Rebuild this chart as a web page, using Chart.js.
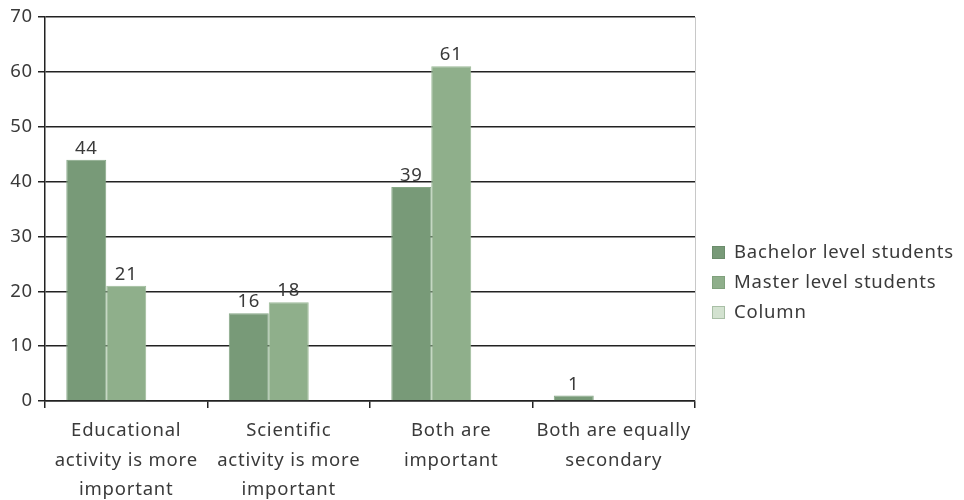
<!DOCTYPE html>
<html><head><meta charset="utf-8">
<script src="https://cdn.jsdelivr.net/npm/chart.js@4"></script>
<style>html,body{margin:0;padding:0;background:#fff}#wrap{width:964px;height:500px}</style>
</head><body><div id="wrap"><canvas id="c" width="964" height="500"></canvas></div>
<script>
const categories = [["Educational","activity is more","important"],["Scientific","activity is more","important"],["Both are","important"],["Both are equally","secondary"]];
const bachelor = [44, 16, 39, 1];
const master = [21, 18, 61, null];
const column = [null, null, null, null];
const seriesNames = ["Bachelor level students", "Master level students", "Column"];
const yTicks = [0,10,20,30,40,50,60,70];

const FONT = "'Noto Sans', sans-serif";
const FS = 18.5;
const TXT = '#3a3a3a';
const SPACING = '0.8px';

const spacingPlugin = {
  id: 'spacing',
  beforeInit(chart) { chart.ctx.letterSpacing = SPACING; },
  beforeUpdate(chart) { chart.ctx.letterSpacing = SPACING; },
  beforeDraw(chart) { chart.ctx.letterSpacing = SPACING; }
};

const valueLabels = {
  id: 'valueLabels',
  afterDatasetsDraw(chart) {
    const ctx = chart.ctx;
    ctx.save();
    ctx.letterSpacing = SPACING;
    ctx.font = FS + 'px ' + FONT;
    ctx.fillStyle = TXT;
    ctx.textAlign = 'center';
    ctx.textBaseline = 'alphabetic';
    chart.data.datasets.forEach((ds, i) => {
      const meta = chart.getDatasetMeta(i);
      meta.data.forEach((bar, j) => {
        const v = ds.data[j];
        if (v === null || v === undefined) return;
        ctx.fillText(String(v), bar.x, bar.y - 6);
      });
    });
    ctx.restore();
  }
};

const sideLegend = {
  id: 'sideLegend',
  afterDraw(chart) {
    const ctx = chart.ctx;
    const a = chart.chartArea;
    ctx.save();
    ctx.letterSpacing = SPACING;
    ctx.strokeStyle = '#c8c8c8';
    ctx.lineWidth = 1;
    ctx.beginPath();
    ctx.moveTo(Math.round(a.right) + 0.5, a.top);
    ctx.lineTo(Math.round(a.right) + 0.5, a.bottom);
    ctx.stroke();
    ctx.font = FS + 'px ' + FONT;
    ctx.textBaseline = 'middle';
    ctx.textAlign = 'left';
    const x0 = a.right + 17;
    const y0 = 253, dy = 30;
    chart.data.datasets.forEach((ds, i) => {
      const y = y0 + i * dy;
      ctx.fillStyle = ds.backgroundColor;
      ctx.fillRect(x0, y - 7, 13, 13);
      ctx.strokeStyle = ds.legendBorder;
      ctx.lineWidth = 1;
      ctx.strokeRect(x0 + 0.5, y - 6.5, 12, 12);
      ctx.fillStyle = TXT;
      ctx.fillText(ds.label, x0 + 22, y);
    });
    ctx.restore();
  }
};

new Chart(document.getElementById('c'), {
  type: 'bar',
  data: {
    labels: categories,
    datasets: [
      { label: seriesNames[0], data: bachelor, backgroundColor: '#789a78', borderColor: '#86a786', borderWidth: 1, legendBorder: '#6b8c6b' },
      { label: seriesNames[1], data: master, backgroundColor: '#8faf8b', borderColor: '#9dbb99', borderWidth: 1, legendBorder: '#80a17c' },
      { label: seriesNames[2], data: column, backgroundColor: '#d3e2d0', borderColor: '#b9cdb6', borderWidth: 1, legendBorder: '#a9bfa6' }
    ]
  },
  options: {
    responsive: false,
    animation: false,
    devicePixelRatio: 1,
    layout: { padding: { top: 17, right: 269, left: 0, bottom: 0 } },
    datasets: { bar: { categoryPercentage: 0.738, barPercentage: 1.0 } },
    plugins: { legend: { display: false }, tooltip: { enabled: false } },
    scales: {
      x: {
        grid: { display: true, offset: true, drawOnChartArea: false, drawTicks: true, tickLength: 7, color: '#222', lineWidth: 1.5 },
        border: { display: true, color: '#222', width: 1.5 },
        ticks: { color: TXT, font: { family: FONT, size: FS, lineHeight: 1.6 }, padding: 8, maxRotation: 0, autoSkip: false },
        afterFit(s) { s.height = 99; }
      },
      y: {
        min: 0, max: 70,
        afterBuildTicks(s) { s.ticks = yTicks.map(v => ({ value: v })); },
        grid: { color: '#222', lineWidth: 1.5, tickLength: 7, drawTicks: true },
        border: { display: true, color: '#222', width: 1.5 },
        ticks: { color: TXT, font: { family: FONT, size: FS }, padding: 5 },
        afterFit(s) { s.width = 45; }
      }
    }
  },
  plugins: [spacingPlugin, valueLabels, sideLegend]
});
</script></body></html>
